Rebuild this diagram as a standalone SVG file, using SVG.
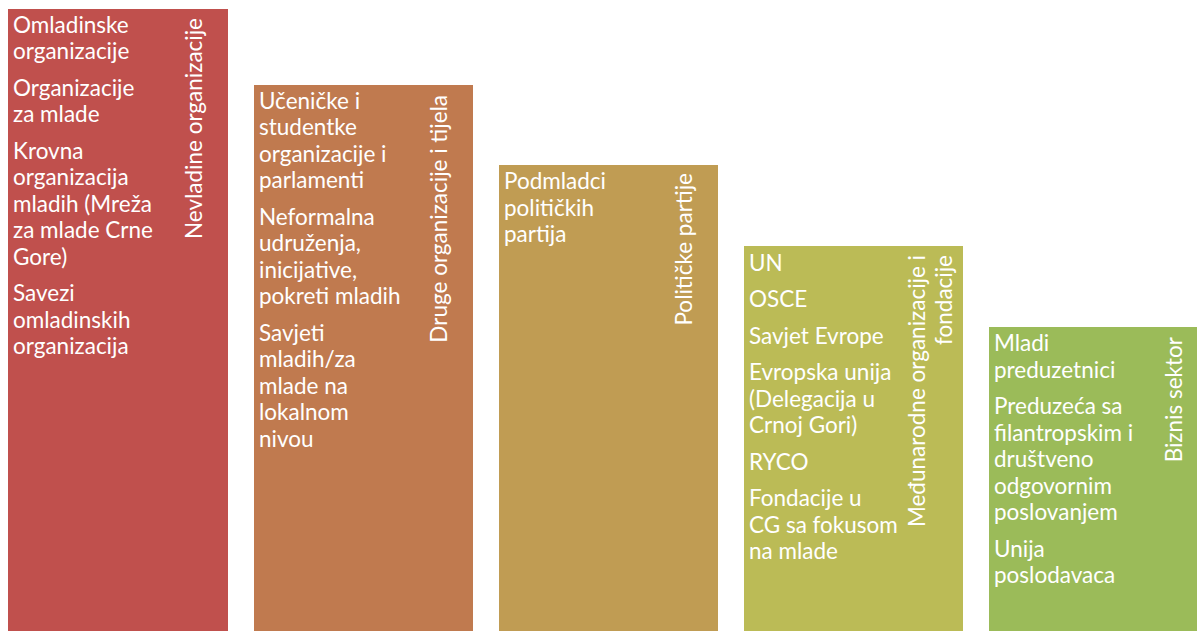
<svg xmlns="http://www.w3.org/2000/svg" width="1197" height="631" viewBox="0 0 1197 631">
<style>
text{font-family:Lato,"Open Sans","Liberation Sans",sans-serif;font-size:22.5px;fill:#ffffff}
.t{text-anchor:end}
</style>
<rect width="1197" height="631" fill="#ffffff"/>
<g id="connectors"></g>
<g id="n1">
<rect x="8" y="9" width="220" height="622" fill="#C0504D"/>
<text x="13" y="32.5">Omladinske</text>
<text x="13" y="59">organizacije</text>
<text x="13" y="95.5">Organizacije</text>
<text x="13" y="122">za mlade</text>
<text x="13" y="158.5">Krovna</text>
<text x="13" y="185">organizacija</text>
<text x="13" y="211.5">mladih (Mreža</text>
<text x="13" y="238">za mlade Crne</text>
<text x="13" y="264.5">Gore)</text>
<text x="13" y="301">Savezi</text>
<text x="13" y="327.5">omladinskih</text>
<text x="13" y="354">organizacija</text>
<text class="t" transform="translate(201.5,18) rotate(-90)">Nevladine organizacije</text>
</g>
<g id="n2">
<rect x="254" y="85" width="219" height="546" fill="#C07A4F"/>
<text x="259" y="108.5">Učeničke i</text>
<text x="259" y="135">studentke</text>
<text x="259" y="161.5">organizacije i</text>
<text x="259" y="188">parlamenti</text>
<text x="259" y="224.5">Neformalna</text>
<text x="259" y="251">udruženja,</text>
<text x="259" y="277.5">inicijative,</text>
<text x="259" y="304">pokreti mladih</text>
<text x="259" y="340.5">Savjeti</text>
<text x="259" y="367">mladih/za</text>
<text x="259" y="393.5">mlade na</text>
<text x="259" y="420">lokalnom</text>
<text x="259" y="446.5">nivou</text>
<text class="t" transform="translate(446.5,95) rotate(-90)">Druge organizacije i tijela</text>
</g>
<g id="n3">
<rect x="499" y="165" width="219" height="466" fill="#C09C53"/>
<text x="504" y="189">Podmladci</text>
<text x="504" y="215.5">političkih</text>
<text x="504" y="242">partija</text>
<text class="t" transform="translate(691.5,173) rotate(-90)">Političke partije</text>
</g>
<g id="n4">
<rect x="744" y="246" width="219" height="385" fill="#BBBB56"/>
<text x="749" y="270.5">UN</text>
<text x="749" y="307">OSCE</text>
<text x="749" y="343.5">Savjet Evrope</text>
<text x="749" y="380">Evropska unija</text>
<text x="749" y="406.5">(Delegacija u</text>
<text x="749" y="433">Crnoj Gori)</text>
<text x="749" y="469.5">RYCO</text>
<text x="749" y="506">Fondacije u</text>
<text x="749" y="532.5">CG sa fokusom</text>
<text x="749" y="559">na mlade</text>
<text class="t" transform="translate(925,255) rotate(-90)">Međunarodne organizacije i</text>
<text class="t" transform="translate(951.5,255) rotate(-90)">fondacije</text>
</g>
<g id="n5">
<rect x="989" y="327" width="219" height="304" fill="#9BBB59"/>
<text x="994" y="351">Mladi</text>
<text x="994" y="377.5">preduzetnici</text>
<text x="994" y="414">Preduzeća sa</text>
<text x="994" y="440.5">filantropskim i</text>
<text x="994" y="467">društveno</text>
<text x="994" y="493.5">odgovornim</text>
<text x="994" y="520">poslovanjem</text>
<text x="994" y="556.5">Unija</text>
<text x="994" y="583">poslodavaca</text>
<text class="t" transform="translate(1181.5,337) rotate(-90)">Biznis sektor</text>
</g>
</svg>
